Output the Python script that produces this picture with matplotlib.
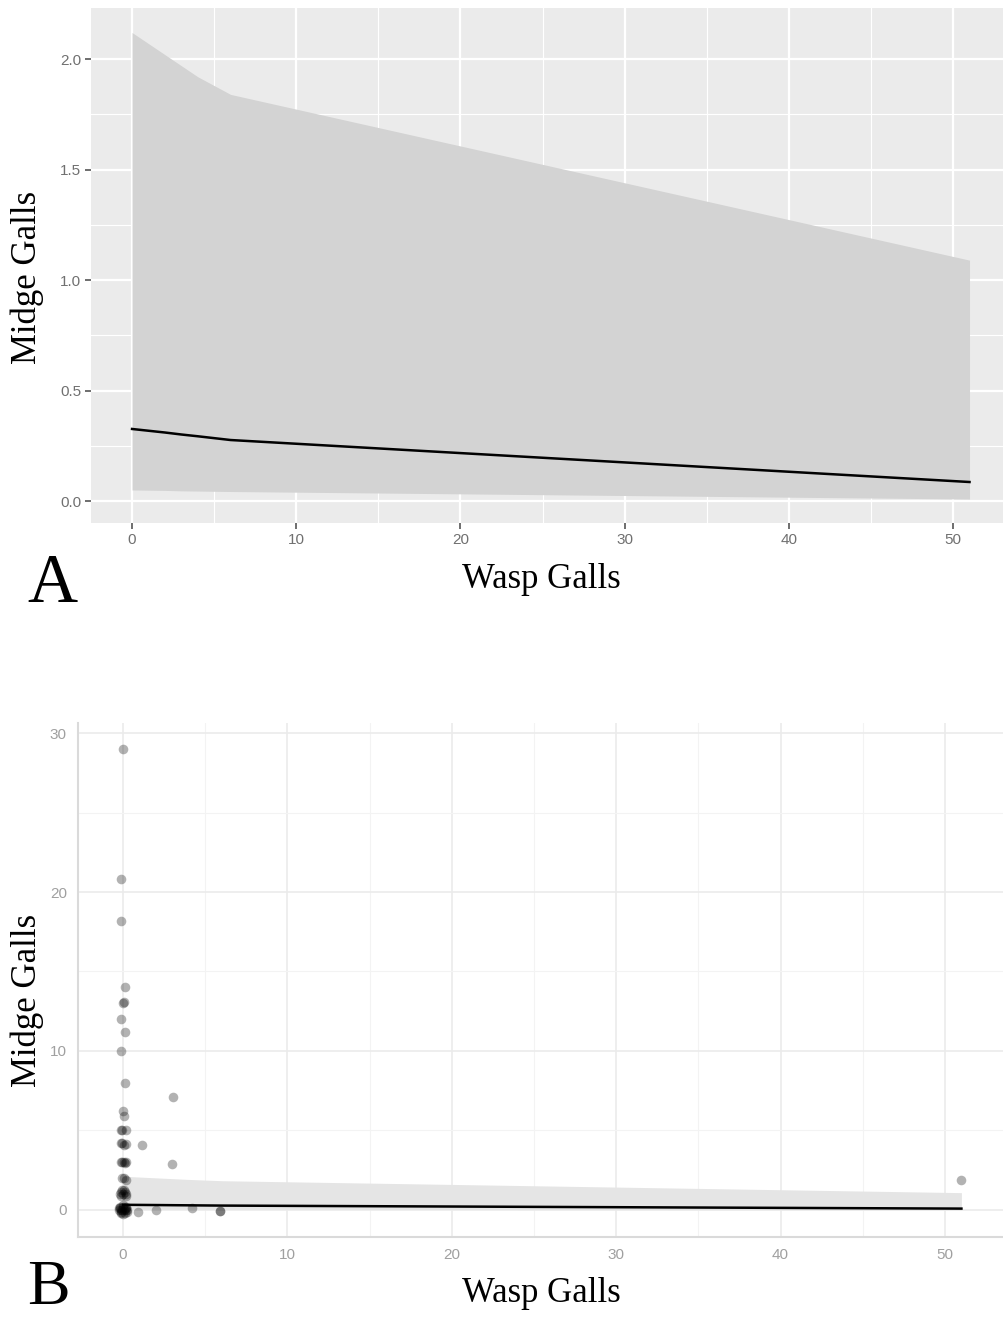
import numpy as np
import matplotlib.pyplot as plt
from matplotlib.ticker import MultipleLocator

# fitted curve (negative binomial fit) with confidence band
fit_x = [0, 1, 2, 3, 4, 6, 51]
fit_y = [0.326, 0.318, 0.310, 0.301, 0.293, 0.276, 0.086]
fit_lo = [0.050, 0.049, 0.048, 0.046, 0.045, 0.043, 0.009]
fit_hi = [2.12, 2.07, 2.02, 1.97, 1.92, 1.84, 1.09]

# raw observations (slightly jittered around x = 0)
wasp = [0.0, -0.15, -0.15, 0.1, 0.05, 0.0, -0.15, 0.1, -0.1, 0.1,
        0.0, 0.05, -0.05, -0.15, 0.15, -0.1, -0.05, 0.05, 0.15,
        1.15, 3.05, 3.0,
        -0.1, -0.05, 0.05, 0.15, 0.1, -0.05, 0.05, 0.15,
        -0.2, -0.1, 0.0, 0.1, 0.2, -0.15, 0.15, -0.05, 0.05,
        -0.25, -0.15, -0.05, 0.05, 0.15, 0.25, -0.2, 0.0, 0.2, -0.1, 0.1, 0.0,
        -0.2, 0.0, 0.2, -0.1, 0.1, 0.25, -0.25,
        0.9, 2.0, 4.2, 5.9, 5.9, 51.0]
midge = [29.0, 20.8, 18.2, 14.0, 13.1, 13.0, 12.0, 11.2, 10.0, 8.0,
         6.2, 5.9, 5.0, 5.0, 5.0, 4.2, 4.2, 4.1, 4.15,
         4.1, 7.1, 2.9,
         3.0, 3.0, 3.0, 3.0, 2.95, 2.0, 2.0, 1.9,
         1.0, 1.1, 1.0, 1.1, 1.0, 0.85, 0.85, 1.25, 1.25,
         0.0, 0.0, 0.0, 0.0, 0.0, 0.0, 0.2, 0.2, 0.2, -0.2, -0.2, -0.25,
         0.1, 0.3, 0.1, -0.1, 0.05, -0.1, 0.1,
         -0.1, 0.0, 0.1, -0.05, -0.05, 1.9]

W, H = 1004, 1318
fig = plt.figure(figsize=(W / 100, H / 100), dpi=100)


def box(l, t, r, b):
    return [l / W, 1 - b / H, (r - l) / W, (b - t) / H]


def ftext(x, y, s, **kw):
    fig.text(x / W, 1 - y / H, s, **kw)


serif = ['Liberation Serif', 'DejaVu Serif']
sans = ['Liberation Sans', 'DejaVu Sans']

# ---------- panel A ----------
axA = fig.add_axes(box(91, 8, 1004, 523))
axA.set_facecolor('#EBEBEB')
axA.fill_between(fit_x, fit_lo, fit_hi, color='#D3D3D3', lw=0, zorder=2)
axA.plot(fit_x, fit_y, color='black', lw=1.8, zorder=3)
axA.set_xlim(-2.5, 53.1)
axA.set_ylim(-0.0995, 2.231)
axA.xaxis.set_major_locator(MultipleLocator(10))
axA.xaxis.set_minor_locator(MultipleLocator(5))
axA.yaxis.set_major_locator(MultipleLocator(0.5))
axA.yaxis.set_minor_locator(MultipleLocator(0.25))
axA.set_yticks([0, 0.5, 1.0, 1.5, 2.0])
axA.set_yticklabels(['0.0', '0.5', '1.0', '1.5', '2.0'])
axA.grid(which='major', color='white', lw=1.6, zorder=1)
axA.grid(which='minor', color='white', lw=0.8, zorder=1)
axA.set_axisbelow(True)
for s in axA.spines.values():
    s.set_visible(False)
axA.tick_params(which='major', length=4, width=1.2, color='#555555',
                labelcolor='#707070', labelsize=11, pad=3)
axA.tick_params(which='minor', length=0)
for lab in axA.get_xticklabels() + axA.get_yticklabels():
    lab.set_family(sans)

ftext(27, 277, 'Midge Galls', rotation=90, ha='center', va='center',
      fontsize=25, family=serif)
ftext(541, 580, 'Wasp Galls', ha='center', va='center', fontsize=25,
      family=serif)
ftext(52, 602, 'A', ha='center', va='baseline', fontsize=50, family=serif)

# ---------- panel B ----------
axB = fig.add_axes(box(78, 723, 1004, 1237))
axB.set_facecolor('white')
axB.fill_between(fit_x, fit_lo, fit_hi, color='#E5E5E5', lw=0, zorder=2)
axB.scatter(wasp, midge, s=48, color='black', alpha=0.3, lw=0, zorder=3)
axB.plot(fit_x, fit_y, color='black', lw=1.8, zorder=4)
axB.set_xlim(-2.74, 53.59)
axB.set_ylim(-1.70, 30.63)
axB.xaxis.set_major_locator(MultipleLocator(10))
axB.xaxis.set_minor_locator(MultipleLocator(5))
axB.yaxis.set_major_locator(MultipleLocator(10))
axB.yaxis.set_minor_locator(MultipleLocator(5))
axB.grid(which='major', color='#EBEBEB', lw=1.2, zorder=1)
axB.grid(which='minor', color='#F3F3F3', lw=0.8, zorder=1)
axB.set_axisbelow(True)
for k in ['top', 'right']:
    axB.spines[k].set_visible(False)
for k in ['left', 'bottom']:
    axB.spines[k].set_color('#DADADA')
    axB.spines[k].set_linewidth(1.5)
axB.tick_params(which='both', length=0, labelcolor='#A0A0A0',
                labelsize=11, pad=8)
for lab in axB.get_xticklabels() + axB.get_yticklabels():
    lab.set_family(sans)

ftext(27, 1000, 'Midge Galls', rotation=90, ha='center', va='center',
      fontsize=25, family=serif)
ftext(541, 1293, 'Wasp Galls', ha='center', va='center', fontsize=25,
      family=serif)
ftext(48, 1304, 'B', ha='center', va='baseline', fontsize=46, family=serif)

fig.savefig('out.png', dpi=100)
